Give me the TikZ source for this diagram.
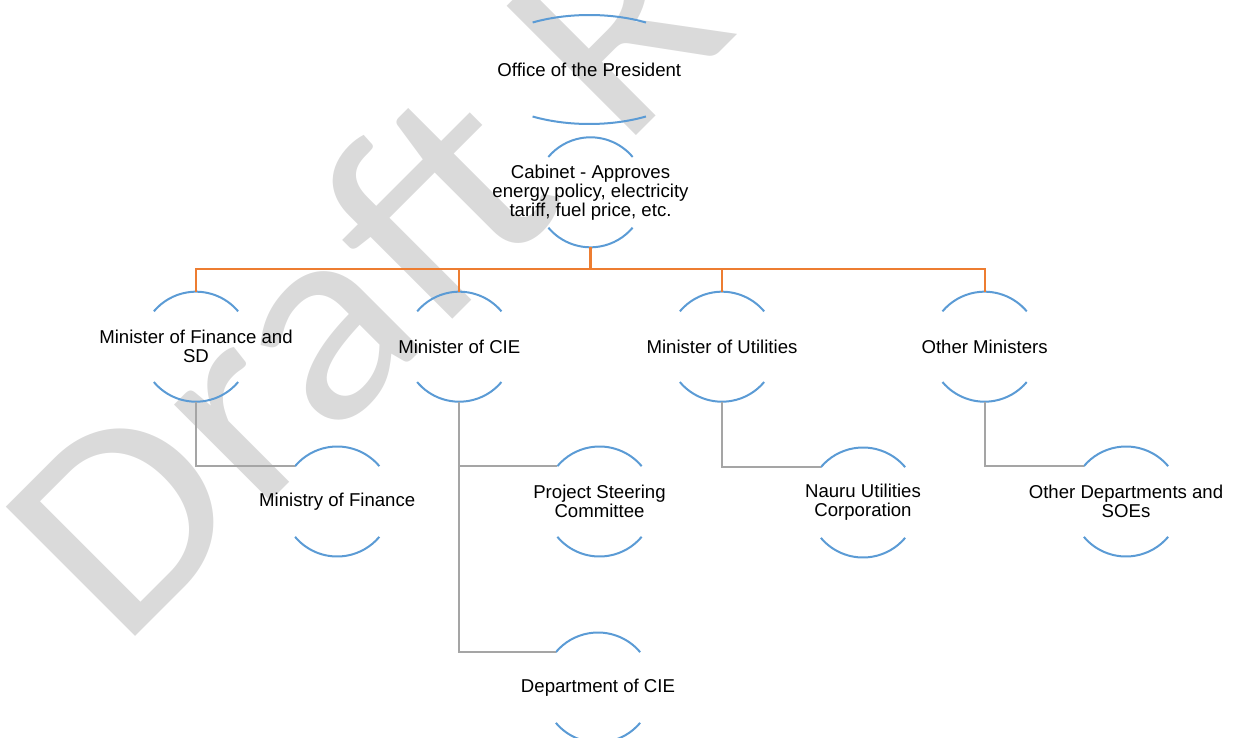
\documentclass[tikz,border=0pt]{standalone}
\usepackage{fontspec}
\setmainfont{Liberation Sans}
\newfontfamily\wmfont{Carlito}
\definecolor{arcblue}{RGB}{91,155,213}
\definecolor{linkorange}{RGB}{237,125,49}
\definecolor{linkgray}{RGB}{165,165,165}
\definecolor{wmgray}{RGB}{218,218,218}
\tikzset{
  lbl/.style={font=\fontsize{18.6pt}{19pt}\selectfont, align=center, inner sep=0pt, text=black},
  arcline/.style={draw=arcblue, line width=2pt},
  orangeline/.style={draw=linkorange, line width=2.2pt},
  grayline/.style={draw=linkgray, line width=2.2pt},
  wmtext/.style={font=\wmfont\fontsize{285pt}{285pt}\selectfont, text=wmgray, anchor=base west, rotate=45, xscale=1.10, inner sep=0pt, outer sep=0pt}
}
% name, x, y (downwards), text
\newcommand{\circnode}[4]{%
  \node[lbl] (#1) at (#2,-#3) {#4};
  \coordinate (#1-t) at ([yshift=55pt]#1.center);
  \coordinate (#1-b) at ([yshift=-55pt]#1.center);
  \coordinate (#1-tl) at ([shift={(140:55pt)}]#1.center);
  \draw[arcline] ([shift={(40:55pt)}]#1.center) arc[start angle=40, end angle=140, radius=55pt];
  \draw[arcline] ([shift={(220:55pt)}]#1.center) arc[start angle=220, end angle=320, radius=55pt];
}
\begin{document}
\begin{tikzpicture}[x=1pt, y=1pt]
\useasboundingbox (0,0) rectangle (1233,-738);
\begin{scope}
  \clip (0,0) rectangle (1233,-738);
  \node[wmtext] (wm) at (120.4,-651.6) {Draft R};
\end{scope}

% top node (flattened ellipse arcs)
\node[lbl] (off) at (589.3,-69.5) {Office of the President};
\draw[arcline] ([shift={(56.7pt,47pt)}]off.center) arc[start angle=59.6, end angle=120.4, x radius=112pt, y radius=54.5pt];
\draw[arcline] ([shift={(-56.7pt,-47pt)}]off.center) arc[start angle=239.6, end angle=300.4, x radius=112pt, y radius=54.5pt];

\circnode{cab}{590.5}{192.3}{Cabinet - Approves\\energy policy, electricity\\tariff, fuel price, etc.}

\circnode{fin}{196}{346.7}{Minister of Finance and\\SD}
\circnode{cie}{459.3}{346.7}{Minister of CIE}
\circnode{utl}{722}{346.7}{Minister of Utilities}
\circnode{oth}{984.6}{346.7}{Other Ministers}

\circnode{mof}{337.2}{501.5}{Ministry of Finance}
\circnode{psc}{599.5}{501.5}{Project Steering\\Committee}
\circnode{nuc}{863}{502.5}{Nauru Utilities\\Corporation}
\circnode{ode}{1126}{501.5}{Other Departments and\\SOEs}
\circnode{dep}{598}{687.5}{Department of CIE}

% orange connectors
\draw[orangeline] (cab-b) -- ++(0,-21.7) -| (fin-t);
\draw[orangeline] (cab-b) -- ++(0,-21.7) -| (cie-t);
\draw[orangeline] (cab-b) -- ++(0,-21.7) -| (utl-t);
\draw[orangeline] (cab-b) -- ++(0,-21.7) -| (oth-t);

% gray connectors
\draw[grayline] (fin-b) |- (mof-tl);
\draw[grayline] (cie-b) |- (psc-tl);
\draw[grayline] (cie-b) |- (dep-tl);
\draw[grayline] (utl-b) |- (nuc-tl);
\draw[grayline] (oth-b) |- (ode-tl);
\end{tikzpicture}
\end{document}
